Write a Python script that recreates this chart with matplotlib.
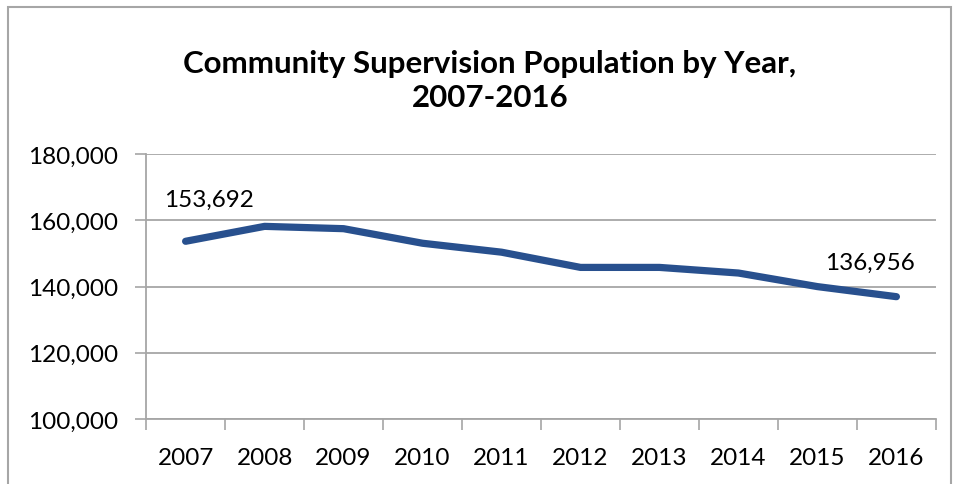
import matplotlib
matplotlib.use('Agg')
import matplotlib.pyplot as plt
from matplotlib.ticker import FuncFormatter, FixedLocator

years = ['2007', '2008', '2009', '2010', '2011', '2012', '2013', '2014', '2015', '2016']
population = [153692, 158200, 157500, 153100, 150400, 145800, 145800, 144100, 140000, 136956]
yticks = [100000, 120000, 140000, 160000, 180000]

plt.rcParams['font.family'] = ['Lato', 'DejaVu Sans']

grey = '#A6A6A6'
blue = '#28508E'

fig = plt.figure(figsize=(9.55, 4.85), dpi=100)
ax = fig.add_axes([0.153, 0.134, 0.827, 0.546])

x = list(range(len(years)))
ax.plot(x, population, color=blue, linewidth=5.2, solid_capstyle='round',
        solid_joinstyle='round', zorder=3)

ax.set_xlim(-0.5, len(years) - 0.5)
ax.set_ylim(yticks[0], yticks[-1])
ax.set_yticks(yticks)
ax.yaxis.set_major_formatter(FuncFormatter(lambda v, p: f'{int(v):,}'))
ax.grid(axis='y', color=grey, linewidth=1.3)
ax.set_axisbelow(True)

ax.set_xticks(x)
ax.set_xticklabels(years)
ax.xaxis.set_minor_locator(FixedLocator([i - 0.5 for i in range(len(years) + 1)]))
ax.tick_params(axis='x', which='major', length=0, pad=20, labelsize=17.5)
ax.tick_params(axis='x', which='minor', length=8, width=1.2, color=grey)
ax.tick_params(axis='y', length=8, width=1.2, color=grey, pad=12, labelsize=17.5)

for s in ['top', 'right']:
    ax.spines[s].set_visible(False)
for s in ['left', 'bottom']:
    ax.spines[s].set_color(grey)
    ax.spines[s].set_linewidth(1.3)

# data labels on first and last points
ax.annotate(f'{population[0]:,}', (x[0], population[0]), xytext=(17, 30),
            textcoords='offset points', ha='center', va='center', fontsize=17.5)
ax.annotate(f'{population[-1]:,}', (x[-1], population[-1]), xytext=(-19, 25),
            textcoords='offset points', ha='center', va='center', fontsize=17.5)

fig.text(0.513, 0.833, 'Community Supervision Population by Year,\n2007-2016',
         ha='center', va='center', fontsize=22.5, fontweight='bold', linespacing=1.3)

# chart border
fig.patches.append(plt.Rectangle((0.008, -0.01), 0.988, 0.993, transform=fig.transFigure,
                                 fill=False, edgecolor=grey, linewidth=1.5))

fig.savefig('out.png', dpi=100)
